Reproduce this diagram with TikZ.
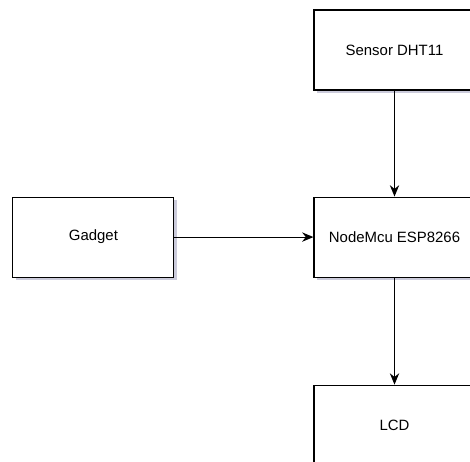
\documentclass[tikz,border=0pt]{standalone}
\usepackage{fontspec}
\setmainfont{Liberation Sans}
\usetikzlibrary{arrows.meta, positioning, shadows}

\begin{document}
\begin{tikzpicture}[x=0.75pt, y=-0.75pt]
        % 颜色
        \definecolor{shadeGray}{RGB}{190,190,210}

        % 样式
        \tikzset{
            block/.style={draw=black, line width=0.8pt, fill=white,
                minimum width=120.75pt, minimum height=60pt, inner sep=0pt,
                font=\fontsize{11.2}{14}\selectfont,
                drop shadow={shadow xshift=2.2pt, shadow yshift=-2.2pt, fill=shadeGray, opacity=0.8}},
            link/.style={-{Stealth[length=8.5pt, width=7pt]}, line width=0.8pt}
        }

        % 画布大小
        \useasboundingbox (0,0) rectangle (470,461);
        \clip (0,0) rectangle (470,461);

        % 方框
        \node[block] (sensor) at (394.5,50) {Sensor DHT11};
        \node[block, below=79.5pt of sensor] (mcu) {NodeMcu ESP8266};
        \node[block, below=80.25pt of mcu] (lcd) {LCD};
        \node[block, left=104.25pt of mcu] (gadget) {Gadget};

        % 连线
        \draw[link] (sensor) -- (mcu);
        \draw[link] (mcu) -- (lcd);
        \draw[link] (gadget) -- (mcu);
    \end{tikzpicture}
\end{document}
